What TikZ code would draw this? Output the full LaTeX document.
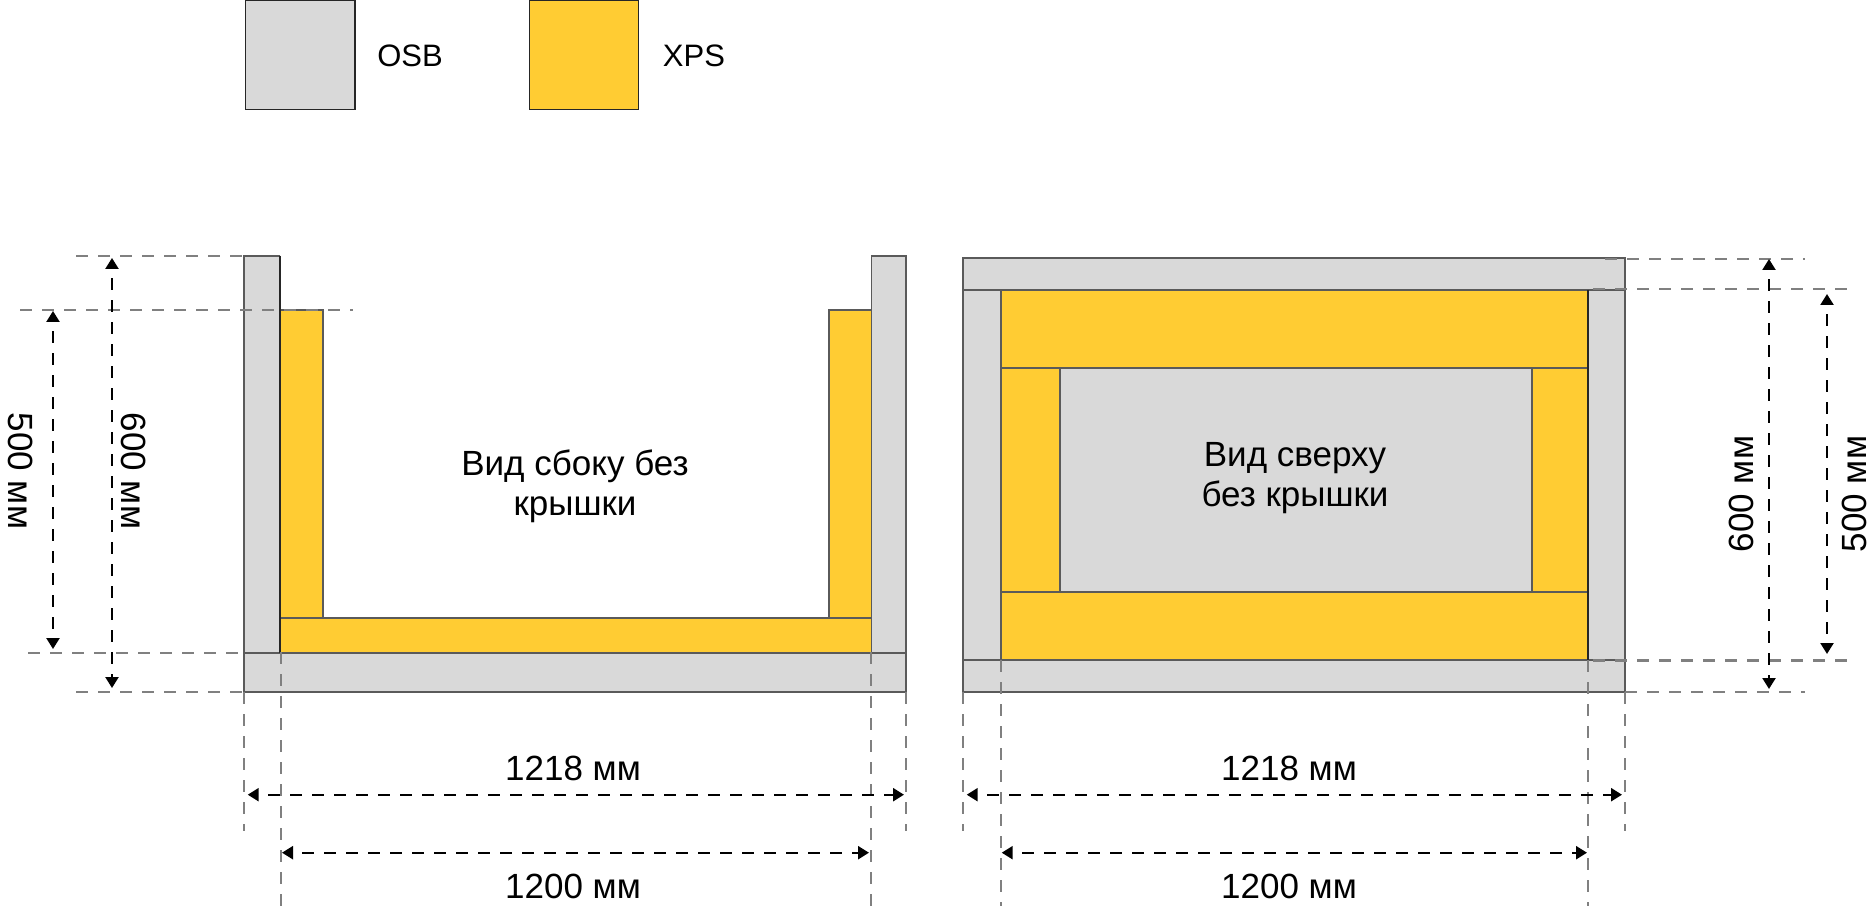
\documentclass[tikz,border=0pt]{standalone}
\usepackage{fontspec}
\setmainfont{Liberation Sans}
\usetikzlibrary{arrows.meta}
\definecolor{osbgray}{HTML}{D9D9D9}
\definecolor{xpsyellow}{HTML}{FFCC33}
\definecolor{edgegray}{HTML}{5A5A5A}
\definecolor{guidegray}{HTML}{808080}
\tikzset{
	osb/.style = {fill = osbgray, draw = edgegray, line width = 1.7pt},
	xps/.style = {fill = xpsyellow, draw = edgegray, line width = 1.7pt},
	swatch/.style = {draw = black!85, line width = 1.2pt},
	guide/.style = {draw = guidegray, line width = 2.3pt, dash pattern = on 12pt off 10pt},
	dimline/.style = {draw = black, line width = 2.3pt, dash pattern = on 12pt off 10pt, dash phase = 12pt, {Triangle[width=13pt,length=11pt]}-{Triangle[width=13pt,length=11pt]}},
	seam/.style = {draw = black!85, line width = 1.7pt},
	label/.style = {font = \fontsize{35}{40.5}\selectfont, align = center, inner sep = 0pt},
	keytext/.style = {font = \fontsize{31}{36}\selectfont, inner sep = 0pt}
}
\begin{document}
\begin{tikzpicture}[x = 1pt, y = -1pt]
	\useasboundingbox (0,0) rectangle (1875,917);
	% legend
	\draw[osb, swatch] (245.5,0.8) rectangle (355,109.5);
	\draw[xps, swatch] (529.5,0.8) rectangle (638.5,109.5);
	\node (osbtext) [keytext] at (410,56) {OSB};
	\node (xpstext) [keytext] at (694,56) {XPS};
	% side view
	\draw[osb] (244,255.7) rectangle (279.5,652.7);
	\draw[osb] (871.5,255.7) rectangle (906,652.7);
	\draw[osb] (244,652.7) rectangle (906,691.7);
	\draw[xps] (280,310) rectangle (323.3,617.7);
	\draw[xps] (829,310) rectangle (871.5,617.7);
	\draw[xps] (280,617.7) rectangle (871.5,652.7);
	\draw[seam] (279.8,255.7) -- (279.8,652.7);
	\node (sidetext) [label] at (575,486.5) {Вид сбоку без\\крышки};
	% top view
	\draw[osb] (963,258) rectangle (1625,290);
	\draw[osb] (963,660) rectangle (1625,691.7);
	\draw[osb] (963,290) rectangle (1001,660);
	\draw[osb] (1588.3,290) rectangle (1625,660);
	\draw[xps] (1001,290) rectangle (1588.3,367.7);
	\draw[xps] (1001,591.7) rectangle (1588.3,660);
	\draw[xps] (1001,367.7) rectangle (1060,591.7);
	\draw[xps] (1532,367.7) rectangle (1588.3,591.7);
	\draw[osb] (1060,367.7) rectangle (1532,591.7);
	\draw[seam] (1588.3,290) -- (1588.3,660);
	\node (toptext) [label] at (1295,478) {Вид сверху\\без крышки};
	% ends of the guides
	\coordinate (ha1) at (76,255.7);    \coordinate (ha2) at (244,255.7);
	\coordinate (hb1) at (20,310);      \coordinate (hb2) at (353,310);
	\coordinate (hc1) at (28,652.7);    \coordinate (hc2) at (244,652.7);
	\coordinate (hd1) at (76,691.7);    \coordinate (hd2) at (244,691.7);
	\coordinate (he1) at (1605,259);    \coordinate (he2) at (1805,259);
	\coordinate (hf1) at (1593,289);    \coordinate (hf2) at (1849,289);
	\coordinate (hg1) at (1593,660.5);  \coordinate (hg2) at (1849,660.5);
	\coordinate (hh1) at (1625,691.7);  \coordinate (hh2) at (1805,691.7);
	\coordinate (va1) at (244,692);     \coordinate (va2) at (244,831);
	\coordinate (vb1) at (281,652);     \coordinate (vb2) at (281,906);
	\coordinate (vc1) at (871,652);     \coordinate (vc2) at (871,906);
	\coordinate (vd1) at (906,692);     \coordinate (vd2) at (906,831);
	\coordinate (ve1) at (963,692);     \coordinate (ve2) at (963,831);
	\coordinate (vf1) at (1001,660);    \coordinate (vf2) at (1001,906);
	\coordinate (vg1) at (1588,660);    \coordinate (vg2) at (1588,906);
	\coordinate (vh1) at (1625,692);    \coordinate (vh2) at (1625,831);
	\path[guide]
	(ha1) edge (ha2)
	(hb1) edge (hb2)
	(hc1) edge (hc2)
	(hd1) edge (hd2)
	(he1) edge (he2)
	(hf1) edge (hf2)
	(hg1) edge (hg2)
	(hh1) edge (hh2)
	(va1) edge (va2)
	(vb1) edge (vb2)
	(vc1) edge (vc2)
	(vd1) edge (vd2)
	(ve1) edge (ve2)
	(vf1) edge (vf2)
	(vg1) edge (vg2)
	(vh1) edge (vh2);
	% ends of the dimension lines
	\coordinate (da1) at (53,311);      \coordinate (da2) at (53,649);
	\coordinate (db1) at (112,258);     \coordinate (db2) at (112,688);
	\coordinate (dc1) at (1769,259);    \coordinate (dc2) at (1769,689);
	\coordinate (dd1) at (1827,294);    \coordinate (dd2) at (1827,654);
	\coordinate (de1) at (247.7,794.7); \coordinate (de2) at (904,794.7);
	\coordinate (df1) at (282,852.7);   \coordinate (df2) at (869,852.7);
	\coordinate (dg1) at (966.7,794.7); \coordinate (dg2) at (1622,794.7);
	\coordinate (dh1) at (1001.7,852.7);\coordinate (dh2) at (1587,852.7);
	\path
	(da1) edge [dimline] (da2)
	(db1) edge [dimline] (db2)
	(dc1) edge [dimline] (dc2)
	(dd1) edge [dimline] (dd2)
	(de1) edge [dimline] (de2)
	(df1) edge [dimline] (df2)
	(dg1) edge [dimline] (dg2)
	(dh1) edge [dimline] (dh2);
	% dimensions
	\node (sideinner) [label, rotate = -90] at (21,471) {500 мм};
	\node (sideouter) [label, rotate = -90] at (134,471) {600 мм};
	\node (topouter) [label, rotate = 90] at (1741,494) {600 мм};
	\node (topinner) [label, rotate = 90] at (1854,494) {500 мм};
	\node (sidewide) [label] at (573,768) {1218 мм};
	\node (sidenarrow) [label] at (573,886) {1200 мм};
	\node (topwide) [label] at (1289,768) {1218 мм};
	\node (topnarrow) [label] at (1289,886) {1200 мм};
\end{tikzpicture}
\end{document}
